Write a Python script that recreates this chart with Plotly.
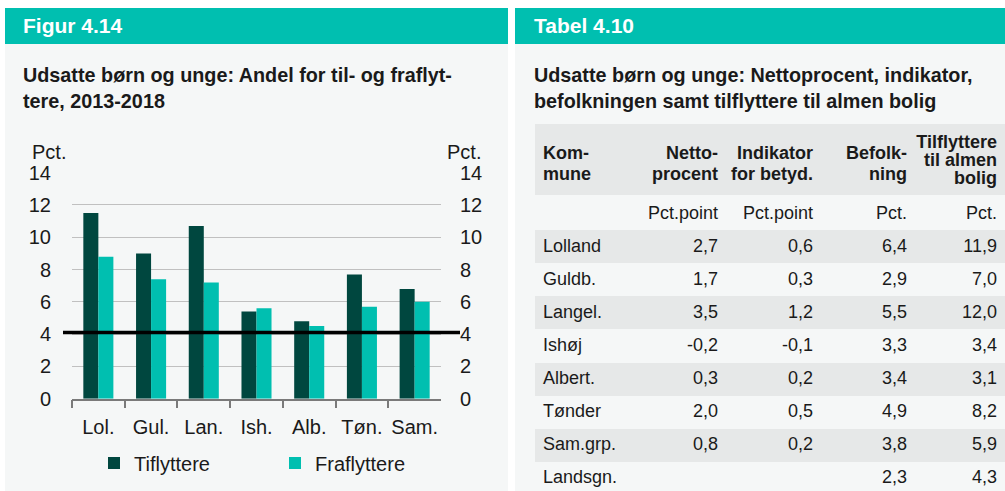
import plotly.graph_objects as go

# ---------------- data ----------------
categories = ["Lol.", "Gul.", "Lan.", "Ish.", "Alb.", "Tøn.", "Sam."]
tilflyttere = [11.5, 9.0, 10.7, 5.4, 4.8, 7.7, 6.8]
fraflyttere = [8.8, 7.4, 7.2, 5.6, 4.5, 5.7, 6.0]
national_level = 4.1
y_ticks = [0, 2, 4, 6, 8, 10, 12, 14]

header_lines = [["Kom-", "mune"], ["Netto-", "procent"], ["Indikator", "for\u00a0betyd."],
                ["Befolk-", "ning"], ["Tilflyttere", "til\u00a0almen", "bolig"]]
kommune = ["", "Lolland", "Guldb.", "Langel.", "Ishøj", "Albert.", "Tønder", "Sam.grp.", "Landsgn."]
nettoprocent = ["Pct.point", "2,7", "1,7", "3,5", "-0,2", "0,3", "2,0", "0,8", ""]
indikator = ["Pct.point", "0,6", "0,3", "1,2", "-0,1", "0,2", "0,5", "0,2", ""]
befolkning = ["Pct.", "6,4", "2,9", "5,5", "3,3", "3,4", "4,9", "3,8", "2,3"]
tilflyt_almen = ["Pct.", "11,9", "7,0", "12,0", "3,4", "3,1", "8,2", "5,9", "4,3"]

# ---------------- style ----------------
W, H = 1005, 491
TEAL = "#00bfb0"
DARK = "#00473f"
PANEL = "#f5f7f7"
STRIPE = "#e6e8e8"
TXT = "#1a1a1a"
FONT = "Arial, Liberation Sans, sans-serif"

TABLE_TOP = 124
HEADER_BG_BOTTOM = 195
HEADER_BLOCK = 73                     # header block incl. small gap before first row
HEADER_SLOTS = 32                     # thin header sub-rows used to place header lines
SLOT_2LINE = [6, 15]
SLOT_3LINE = [1, 9, 17]
ROW_H = 33.1


def px(x):
    return x / W


def py(y):
    return 1 - y / H


fig = go.Figure()

fig.add_trace(go.Bar(x=categories, y=tilflyttere, name="Tiflyttere",
                     marker=dict(color=DARK, line=dict(width=0))))
fig.add_trace(go.Bar(x=categories, y=fraflyttere, name="Fraflyttere",
                     marker=dict(color=TEAL, line=dict(width=0))))
# invisible trace to carry the right-hand axis
fig.add_trace(go.Scatter(x=categories, y=tilflyttere, yaxis="y2", mode="markers",
                         marker=dict(opacity=0), showlegend=False, hoverinfo="skip"))

# header grid: each column's lines dropped into thin sub-rows
header_values = []
for lines in header_lines:
    slots = SLOT_3LINE if len(lines) == 3 else SLOT_2LINE
    col = [""] * HEADER_SLOTS
    for s, t in zip(slots, lines):
        col[s] = t
    header_values.append(col)

stripe_rows = [PANEL, STRIPE, PANEL, STRIPE, PANEL, STRIPE, PANEL, STRIPE, PANEL]
aligns = ["left", "right", "right", "right", "right"]
fig.add_trace(go.Table(
    domain=dict(x=[px(535), 1.0], y=[0, py(TABLE_TOP)]),
    columnwidth=[105, 86, 95, 94, 90],
    header=dict(values=header_values, align=aligns,
                fill=dict(color="rgba(0,0,0,0)"), line=dict(width=0),
                font=dict(family=FONT, size=18, color=TXT, weight="bold"),
                height=HEADER_BLOCK / HEADER_SLOTS),
    cells=dict(values=[kommune, nettoprocent, indikator, befolkning, tilflyt_almen],
               align=aligns,
               fill=dict(color=[stripe_rows] * 5), line=dict(width=0),
               font=dict(family=FONT, size=18, color=TXT), height=ROW_H),
))

shapes = []
for x0, x1 in [(5, 508), (515, 1005)]:
    shapes.append(dict(type="rect", xref="paper", yref="paper", x0=px(x0), x1=px(x1),
                       y0=py(44), y1=py(8), fillcolor=TEAL, line=dict(width=0), layer="below"))
    shapes.append(dict(type="rect", xref="paper", yref="paper", x0=px(x0), x1=px(x1),
                       y0=0, y1=py(44), fillcolor=PANEL, line=dict(width=0), layer="below"))
# table header background
shapes.append(dict(type="rect", xref="paper", yref="paper", x0=px(535), x1=1.0,
                   y0=py(HEADER_BG_BOTTOM), y1=py(TABLE_TOP), fillcolor=STRIPE,
                   line=dict(width=0), layer="below"))
shapes.append(dict(type="line", xref="paper", yref="y", x0=px(63), x1=px(460),
                   y0=national_level, y1=national_level,
                   line=dict(color="black", width=3.5), layer="above"))

annotations = [
    dict(text="<b>Figur 4.14</b>", x=px(21), y=py(26), xref="paper", yref="paper",
         xanchor="left", yanchor="middle", showarrow=False,
         font=dict(family=FONT, size=21, color="white")),
    dict(text="<b>Tabel 4.10</b>", x=px(532), y=py(26), xref="paper", yref="paper",
         xanchor="left", yanchor="middle", showarrow=False,
         font=dict(family=FONT, size=21, color="white")),
    dict(text="<b>Udsatte børn og unge: Andel for til- og fraflyt-<br>tere, 2013-2018</b>",
         x=px(21), y=py(88), xref="paper", yref="paper", xanchor="left", yanchor="middle",
         align="left", showarrow=False, font=dict(family=FONT, size=19.8, color=TXT)),
    dict(text="<b>Udsatte børn og unge: Nettoprocent, indikator,<br>befolkningen samt tilflyttere til almen bolig</b>",
         x=px(532), y=py(88), xref="paper", yref="paper", xanchor="left", yanchor="middle",
         align="left", showarrow=False, font=dict(family=FONT, size=19.8, color=TXT)),
    dict(text="Pct.", x=px(30), y=py(152), xref="paper", yref="paper", xanchor="left",
         yanchor="middle", showarrow=False, font=dict(family=FONT, size=20, color=TXT)),
    dict(text="Pct.", x=px(445), y=py(152), xref="paper", yref="paper", xanchor="left",
         yanchor="middle", showarrow=False, font=dict(family=FONT, size=20, color=TXT)),
]

yaxis_common = dict(range=[0, 14], tickvals=y_ticks, showline=False, ticks="",
                    zeroline=False, tickfont=dict(family=FONT, size=20, color=TXT),
                    domain=[py(398.7), py(172.7)], fixedrange=True, automargin=False)

fig.update_layout(
    width=W, height=H, margin=dict(l=0, r=0, t=0, b=0, autoexpand=False),
    paper_bgcolor="white", plot_bgcolor="rgba(0,0,0,0)",
    font=dict(family=FONT, color=TXT),
    barmode="group", bargap=0.43, bargroupgap=0,
    xaxis=dict(domain=[px(72), px(441)], showline=True, linecolor="#7a7a7a", linewidth=1.5,
               ticks="outside", tickson="boundaries", ticklen=8, tickcolor="#7a7a7a",
               tickwidth=1.5, showgrid=False, automargin=False, fixedrange=True,
               ticklabelstandoff=10,
               tickfont=dict(family=FONT, size=20, color=TXT)),
    yaxis=dict(**yaxis_common, showgrid=True, gridcolor="#c0c0c0", gridwidth=1,
               ticklabelstandoff=20),
    yaxis2=dict(**yaxis_common, overlaying="y", side="right", showgrid=False,
                ticklabelstandoff=18),
    legend=dict(orientation="h", x=px(94), y=py(463), xanchor="left", yanchor="middle",
                font=dict(family=FONT, size=20, color=TXT), bgcolor="rgba(0,0,0,0)",
                entrywidth=136, traceorder="normal"),
    shapes=shapes, annotations=annotations,
)

fig.write_html("out.html", config={"displayModeBar": False},
               post_script="document.body.style.margin='0';")
